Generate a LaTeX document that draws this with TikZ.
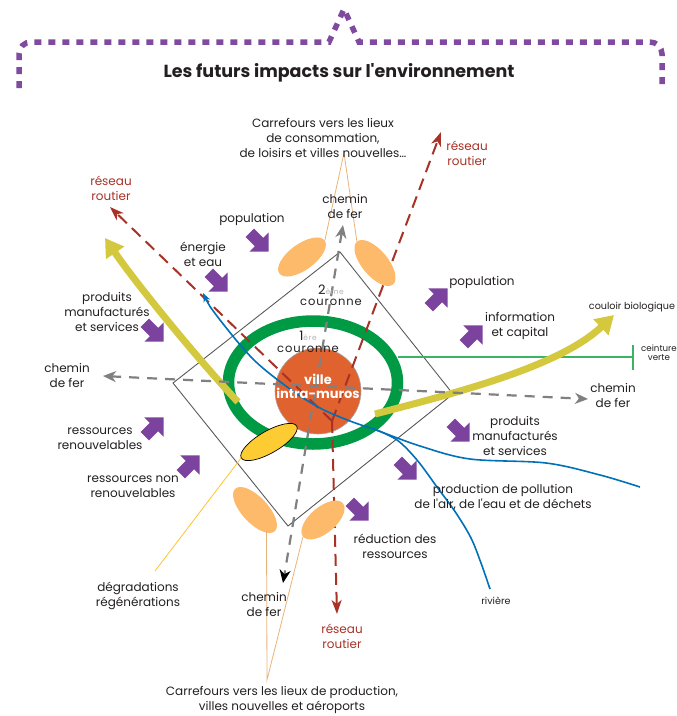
\documentclass[tikz,border=0pt]{standalone}
\usepackage{fontspec}
\setmainfont{Poppins}
\usetikzlibrary{arrows.meta,shapes.geometric}

\definecolor{bracketpurple}{RGB}{127,74,160}
\definecolor{arrowpurple}{RGB}{123,66,158}
\definecolor{ringgreen}{RGB}{0,154,68}
\definecolor{beltgreen}{RGB}{60,178,100}
\definecolor{cityorange}{RGB}{224,98,47}
\definecolor{nodeorange}{RGB}{253,186,107}
\definecolor{tanline}{RGB}{233,178,122}
\definecolor{corridor}{RGB}{212,200,62}
\definecolor{roadred}{RGB}{168,50,38}
\definecolor{railgray}{RGB}{128,128,128}
\definecolor{riverblue}{RGB}{0,112,184}
\definecolor{degyellow}{RGB}{252,204,50}
\definecolor{textdark}{RGB}{35,31,32}
\definecolor{framegray}{RGB}{90,90,90}

\tikzset{
  fatarrow/.pic={\fill[arrowpurple] (-13,-6) -- (0,-6) -- (0,-13.5) -- (13.5,0) -- (0,13.5) -- (0,6) -- (-13,6) -- cycle;}
}

\begin{document}
\begin{tikzpicture}[x=1pt,y=-1pt,
  lbl/.style={text=textdark, font=\fontsize{12}{15}\selectfont, align=center, inner sep=0pt},
  redlbl/.style={lbl, text=roadred},
  smalllbl/.style={text=textdark, font=\fontsize{9.6}{10.5}\selectfont, align=center, inner sep=0pt},
  tinylbl/.style={text=textdark, font=\fontsize{8.7}{9}\selectfont, align=center, inner sep=0pt},
  ringlbl/.style={text=textdark, font=\fontsize{11.5}{11.5}\selectfont\addfontfeature{LetterSpace=8}, align=center, inner sep=0pt},
  bracket/.style={draw=bracketpurple, line width=5.5pt, dash pattern=on 7pt off 7pt},
  rail/.style={draw=railgray, line width=2.2pt, dash pattern=on 10pt off 8pt},
  road/.style={draw=roadred, line width=2pt, dash pattern=on 12pt off 7pt,
               -{Stealth[length=14pt,width=10pt,inset=4pt]}},
  corr/.style={draw=corridor, line width=7pt, -{Triangle[length=18pt,width=21pt]}},
  river/.style={draw=riverblue, line width=1.6pt},
  crossing/.style={ellipse, fill=nodeorange, inner sep=0pt, minimum width=56pt, minimum height=26pt},
  tie/.style={draw=tanline, line width=0.8pt},
]
\useasboundingbox (0,0) rectangle (677,716);

% dotted bracket with title
\draw[bracket] (19,88) -- (19,54) arc[start angle=180,end angle=270,radius=12]
  -- (329,42) -- (344,9) -- (359,42) -- (650,42)
  arc[start angle=270,end angle=360,radius=12] -- (662,88);
\node[text=textdark, font=\fontsize{17.5}{19}\selectfont\bfseries, inner sep=0pt] (title) at (339,73)
  {Les futurs impacts sur l\textquotesingle environnement};

% second ring (square)
\coordinate (dT) at (340,252);
\coordinate (dR) at (453,394);
\coordinate (dB) at (288,526);
\coordinate (dL) at (173,383);
\draw[framegray, line width=0.9pt] (dT) -- (dR) -- (dB) -- (dL) -- cycle;

% first ring
\draw[ringgreen, line width=11.5pt] (313,382.5) ellipse[x radius=84.5, y radius=61.5];

% green belt
\coordinate (beltA) at (398,357);
\coordinate (beltB) at (633,357);
\coordinate (beltT) at (633,345);
\coordinate (beltU) at (633,370);
\draw[beltgreen, line width=1.3pt] (beltA) -- (beltB);
\draw[beltgreen, line width=1.3pt] (beltT) -- (beltU);

% biological corridors
\coordinate (corW0) at (238,402);
\coordinate (corW1) at (105,238);
\coordinate (corE0) at (375,414);
\coordinate (corE1) at (614,315);
\draw[corr] (corW0) .. controls (195,356) and (135,282) .. (corW1);
\draw[corr] (corE0) .. controls (460,392) and (560,366) .. (corE1);

% city
\node[circle, fill=cityorange, draw=gray!70, line width=0.6pt, minimum size=86pt, inner sep=0pt] (city) at (318,391) {};

% railways
\coordinate (railW) at (103,376);
\coordinate (railE) at (588,399);
\coordinate (railN) at (343,225);
\coordinate (railS) at (283,583);
\draw[rail, arrows={Stealth[length=13pt,width=11pt,inset=4pt]-Stealth[length=13pt,width=11pt,inset=4pt]}] (railW) -- (railE);
\draw[rail, arrows={Stealth[length=13pt,width=11pt,inset=4pt]-Stealth[length=13pt,width=11pt,inset=4pt,black]}] (railN) -- (railS);

% roads
\coordinate (hub) at (332,421);
\coordinate (roadNW) at (110,207);
\coordinate (roadNE) at (441,132);
\coordinate (roadS) at (337,614);
\draw[road] (hub) -- (roadNW);
\draw[road] (hub) -- (roadNE);
\draw[road] (hub) -- (roadS);

% river
\draw[river, {Stealth[length=9pt,width=7pt]}-] plot[smooth, tension=0.55] coordinates
  {(203,293) (217,316) (253,359) (290,389) (320,408) (350,421) (376,430) (420,446) (470,459) (546,463) (600,475) (640,487)};
\draw[river] plot[smooth, tension=0.55] coordinates
  {(372,428) (397,440) (417,460) (437,487) (456,513) (471,538) (481,563) (490,589)};

% crossings
\node[crossing, rotate=36] (xNW) at (302,257) {};
\node[crossing, rotate=-50] (xNE) at (375,263) {};
\node[crossing, rotate=-47, minimum width=58pt] (xSW) at (255,510) {};
\node[crossing, rotate=40, minimum width=52pt] (xSE) at (323,520) {};
\node[ellipse, fill=degyellow, draw=black, line width=0.7pt, inner sep=0pt,
      minimum width=64pt, minimum height=22pt, rotate=30] (degr) at (269,442) {};

\coordinate (topfan) at (344,153);
\coordinate (botfan) at (267,680);
\coordinate (xSWfoot) at (266.5,531);
\coordinate (degend) at (155,571);
\draw[tie] (xNW.east) -- (topfan) -- (xNE.west);
\draw[tie] (xSWfoot) -- (botfan) -- (xSE.west);
\draw[degyellow!90!orange, line width=0.8pt] (degr.west) -- (degend);

% flows
\pic[rotate=-45] at (259,242) {fatarrow};
\pic[rotate=-45] at (218,282) {fatarrow};
\pic[rotate=-45] at (154,332) {fatarrow};
\pic[rotate=45] at (154,427) {fatarrow};
\pic[rotate=45] at (190,465) {fatarrow};
\pic[rotate=45] at (438,298) {fatarrow};
\pic[rotate=45] at (473,335) {fatarrow};
\pic[rotate=-45] at (460,432) {fatarrow};
\pic[rotate=-45] at (407,470) {fatarrow};
\pic[rotate=-45] at (359,511) {fatarrow};

% ring labels
\node[ringlbl] (ring2) at (331,295.5) {{\fontsize{13}{13}\selectfont 2}{\color{gray!60}\fontsize{7.5}{7.5}\selectfont ème}\\couronne};
\node[ringlbl] (ring1) at (308,342) {{\fontsize{13}{13}\selectfont 1}{\color{gray!60}\fontsize{7.5}{7.5}\selectfont ère}\\couronne};
\node[text=white, font=\fontsize{13}{14}\selectfont\bfseries, align=center, inner sep=0pt] (cityname) at (318,386)
  {ville\\intra-muros};

% labels
\node[lbl] (carN) at (323,138) {Carrefours vers les lieux\\de consommation,\\de loisirs et villes nouvelles…};
\node[lbl] (railNlbl) at (345,206.5) {chemin\\de fer};
\node[redlbl] (roadNWlbl) at (111,188) {réseau\\routier};
\node[redlbl] (roadNElbl) at (467,153) {réseau\\routier};
\node[redlbl] (roadSlbl) at (342,636) {réseau\\routier};
\node[lbl] (popNW) at (252,219) {population};
\node[lbl] (energy) at (203,254.5) {énergie\\et eau};
\node[lbl] (prodW) at (107,312) {produits\\manufacturés\\et services};
\node[lbl] (railWlbl) at (67,375.5) {chemin\\de fer};
\node[lbl] (renew) at (100,439) {ressources\\renouvelables};
\node[lbl] (nonrenew) at (133,487) {ressources non\\renouvelables};
\node[lbl] (degrlbl) at (138,595.5) {dégradations\\régénérations};
\node[lbl] (railSlbl) at (264,604) {chemin\\de fer};
\node[lbl] (carS) at (282,700) {Carrefours vers les lieux de production,\\villes nouvelles et aéroports};
\node[lbl] (popE) at (482,282) {population};
\node[lbl] (info) at (520,325.5) {information\\et capital};
\node[smalllbl] (couloir) at (632,307) {couloir biologique};
\node[tinylbl] (beltlbl) at (659,353) {ceinture\\verte};
\node[lbl] (railElbl) at (613,395) {chemin\\de fer};
\node[lbl] (prodE) at (515,436) {produits\\manufacturés\\et services};
\node[lbl] (pollution) at (503,497.5) {production de pollution\\de l\textquotesingle air, de l\textquotesingle eau et de déchets};
\node[lbl] (reduction) at (395,546) {réduction des\\ressources};
\node[smalllbl] (riverlbl) at (496,601) {rivière};
\end{tikzpicture}
\end{document}
